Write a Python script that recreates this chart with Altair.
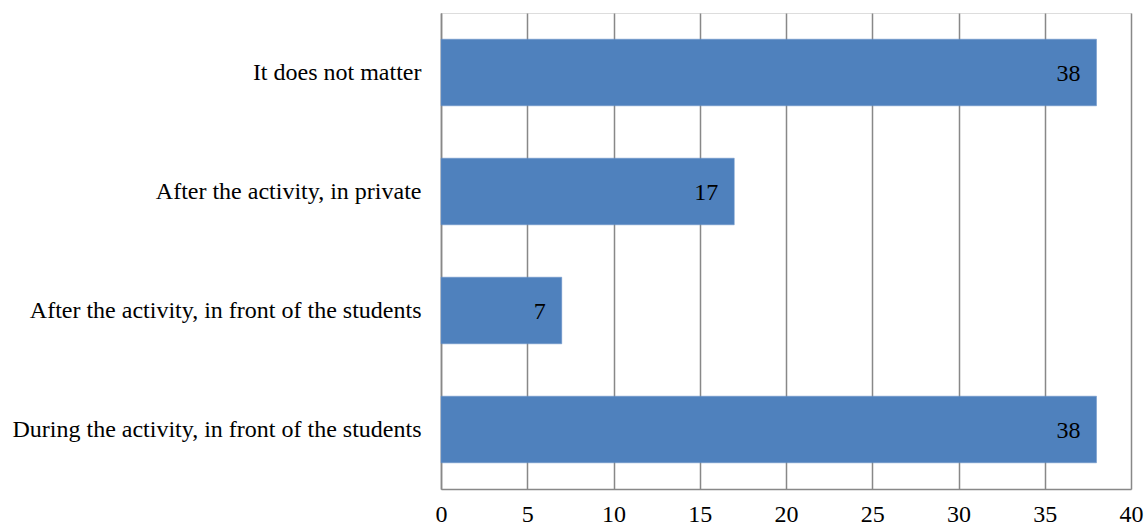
import altair as alt
import pandas as pd

categories = [
    "It does not matter",
    "After the activity, in private",
    "After the activity, in front of the students",
    "During the activity, in front of the students",
]
values = [38, 17, 7, 38]

df = pd.DataFrame({"cat": categories, "val": values})

FONT = "Liberation Serif"
FS = 24

y = alt.Y("cat:N", sort=categories, title=None,
          scale=alt.Scale(paddingInner=0.44, paddingOuter=0.22),
          axis=alt.Axis(labelFont=FONT, labelFontSize=FS, labelColor="black",
                        labelPadding=20, ticks=False, domainColor="#888888",
                        domainWidth=1.5, labelLimit=600))
x = alt.X("val:Q", title=None,
          scale=alt.Scale(domain=[0, 40], nice=False),
          axis=alt.Axis(values=list(range(0, 41, 5)), labelFont=FONT, labelFontSize=FS,
                        labelColor="black", labelPadding=13, ticks=False,
                        labelFlush=False, labelOverlap=False,
                        domainColor="#888888", domainWidth=1.5,
                        grid=True, gridColor="#888888", gridWidth=1.5))

bars = alt.Chart(df).mark_bar(color="#4F81BD", stroke="#6A93C8", strokeWidth=0.5).encode(x=x, y=y)
text = alt.Chart(df).mark_text(align="right", baseline="middle", dx=-16, dy=1,
                               font=FONT, fontSize=FS, color="black").encode(
    x="val:Q", y=alt.Y("cat:N", sort=categories), text="val:Q")

chart = (bars + text).properties(
    width=690, height=476,
    autosize=alt.AutoSizeParams(type="none"),
    padding={"left": 441, "top": 13, "right": 16, "bottom": 38},
).configure_view(stroke=None).configure(background="white")

chart.save("out.html", embed_options={"renderer": "svg", "actions": False})
